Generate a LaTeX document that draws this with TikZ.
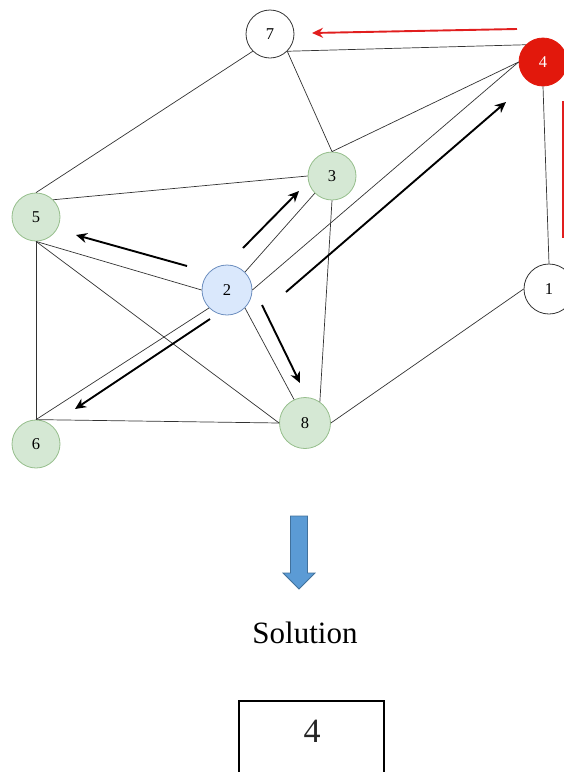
\documentclass[tikz,border=0pt]{standalone}
\usepackage{fontspec}
\setmainfont{Liberation Serif}
\usetikzlibrary{arrows.meta}
\definecolor{gfill}{RGB}{213,232,212}
\definecolor{gdraw}{RGB}{150,190,140}
\definecolor{bfill}{RGB}{218,232,252}
\definecolor{bdraw}{RGB}{108,142,191}
\definecolor{rnode}{RGB}{226,24,12}
\definecolor{edgec}{RGB}{50,50,50}
\definecolor{redarrow}{RGB}{225,30,30}
\definecolor{barrowf}{RGB}{91,155,213}
\definecolor{barrowd}{RGB}{65,113,156}
\begin{document}
\begin{tikzpicture}[x=1pt,y=-1pt,
  vtx/.style={circle,minimum size=48pt,inner sep=0pt,line width=0.8pt,font=\fontsize{16.5}{16.5}\selectfont},
  wnode/.style={vtx,draw=black!80,fill=white},
  gnode/.style={vtx,draw=gdraw,fill=gfill},
  bnode/.style={vtx,draw=bdraw,fill=bfill,minimum size=50pt},
  rednode/.style={vtx,draw=rnode,fill=rnode,text=white},
  edge/.style={draw=edgec,line width=0.7pt},
  move/.style={-{Stealth[length=11pt,width=10pt]},line width=1.9pt,draw=black},
  redmove/.style={-{Stealth[length=11pt,width=10pt]},line width=1.9pt,draw=redarrow},
  bigtext/.style={font=\fontsize{31}{31}\selectfont}
]
\useasboundingbox (0,0) rectangle (564,772);
% vertices
\node[wnode] (n7) at (270,34) {7};
\node[rednode] (n4) at (543,62) {4};
\node[gnode] (n3) at (332,176) {3};
\node[gnode] (n5) at (36,217) {5};
\node[bnode] (n2) at (227,290) {2};
\node[wnode,minimum size=50pt] (n1) at (549,289) {1};
\node[gnode] (n6) at (36,444) {6};
\node[gnode,minimum size=51pt] (n8) at (305,423) {8};
% edges
\draw[edge] (n7.-45) -- (n4.135);
\draw[edge] (n7.-135) -- (n5.90);
\draw[edge] (n7.-45) -- (n3.90);
\draw[edge] (n4.180) -- (n3.90);
\draw[edge] (n4.180) -- (n2.0);
\draw[edge] (n4.-90) -- (n1.90);
\draw[edge] (n3.180) -- (n5.45);
\draw[edge] (n3.-135) -- (n2.45);
\draw[edge] (n3.-90) -- (n8.55);
\draw[edge] (n5.-90) -- (n2.180);
\draw[edge] (n5.-90) -- (n6.90);
\draw[edge] (n5.-90) -- (n8.180);
\draw[edge] (n2.-135) -- (n6.90);
\draw[edge] (n2.-45) -- (n8.115);
\draw[edge] (n6.90) -- (n8.180);
\draw[edge] (n8.0) -- (n1.180);
% move arrows
\coordinate (a5s) at (187,266); \coordinate (a5e) at (76,235);
\coordinate (a3s) at (243,248); \coordinate (a3e) at (299,191);
\coordinate (a4s) at (286,292); \coordinate (a4e) at (506,102);
\coordinate (a6s) at (210,319); \coordinate (a6e) at (75,409);
\coordinate (a8s) at (262,305); \coordinate (a8e) at (300,383);
\coordinate (r7s) at (517,29); \coordinate (r7e) at (312,33);
\coordinate (r1s) at (563,101); \coordinate (r1e) at (563,238);
\draw[move] (a5s) -- (a5e);
\draw[move] (a3s) -- (a3e);
\draw[move] (a4s) -- (a4e);
\draw[move] (a6s) -- (a6e);
\draw[move] (a8s) -- (a8e);
\draw[redmove] (r7s) -- (r7e);
\draw[draw=redarrow,line width=2.5pt] (r1s) -- (r1e);
% lower part
\draw[fill=barrowf,draw=barrowd,line width=0.8pt]
  (290.5,516) -- (307.5,516) -- (307.5,573) -- (315,573) -- (299,589)
  -- (283,573) -- (290.5,573) -- cycle;
\node[bigtext,anchor=base,inner sep=0pt] (sol) at (305,643) {Solution};
\node[draw,line width=2pt,minimum width=145pt,minimum height=120pt,anchor=north west,inner sep=0pt] (box) at (238,700) {};
\node[font=\fontsize{34}{34}\selectfont,text=black!85,inner sep=0pt] (ans) at (312,731) {4};
\end{tikzpicture}
\end{document}
